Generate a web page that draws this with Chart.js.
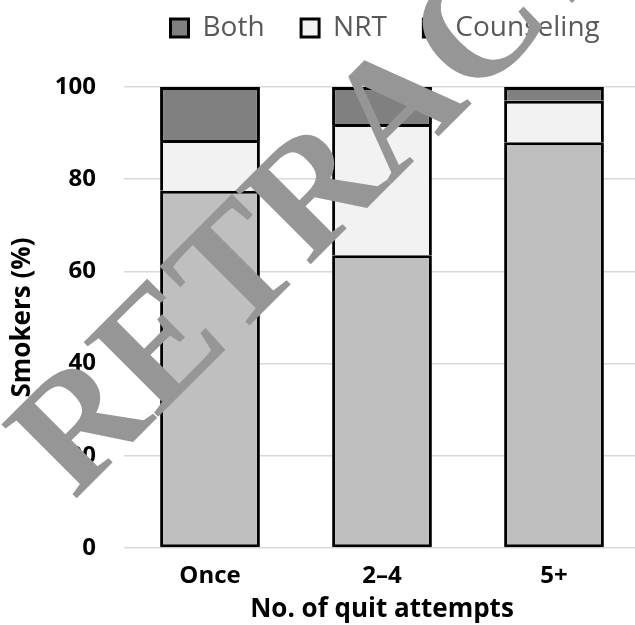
<!DOCTYPE html>
<html>
<head>
<meta charset="utf-8">
<script src="https://cdn.jsdelivr.net/npm/chart.js@4/dist/chart.umd.min.js"></script>
<style>
  html, body { margin: 0; padding: 0; background: #fff; overflow: hidden; }
  #wrap { position: relative; width: 640px; height: 625px; }
</style>
</head>
<body>
<div id="wrap"><canvas id="c"></canvas></div>
<script>
// Quit-attempt groups and the share of smokers using each type of support
const categories = ['Once', '2\u20134', '5+'];
const counseling = [77.5, 63.5, 88];
const nrt = [11, 28.5, 9];
const both = [11.5, 8, 3];
const yTicks = [0, 20, 40, 60, 80, 100];

const seriesNames = ['Counseling', 'NRT', 'Both'];
const seriesColors = ['#bfbfbf', '#f2f2f2', '#808080'];

// Stacked segments share one 3px divider; only the lowest segment draws a bottom edge
const edge = { top: 3, left: 3, right: 3, bottom: 0 };
const baseEdge = { top: 3, left: 3, right: 3, bottom: 3 };

// Legend band: fixed height above the plot, row placed at a fixed position
const LEGEND_HEIGHT = 87;
const LEGEND_X = 170.5;
const LEGEND_MID_Y = 28;

const legendPlacement = {
  id: 'legendPlacement',
  beforeLayout(chart) {
    const lg = chart.legend;
    if (!lg || lg._fixedFit) return;
    const fit = lg.fit.bind(lg);
    lg.fit = function () {
      fit();
      this.height = LEGEND_HEIGHT;
      this.minSize = { width: this.width, height: LEGEND_HEIGHT };
    };
    lg._fixedFit = true;
  },
  afterUpdate(chart) {
    const lg = chart.legend;
    if (!lg) return;
    const pad = lg.options.labels.padding;
    const fontSize = lg.options.labels.font.size;
    const dx = LEGEND_X - pad - lg.left;
    const dy = LEGEND_MID_Y - fontSize / 2 - pad - lg.top;
    lg.left += dx; lg.right += dx;
    lg.top += dy; lg.bottom += dy;
    lg.adjustHitBoxes();
  }
};

// Diagonal stamp across the figure
const stamp = {
  id: 'stamp',
  afterDraw(chart) {
    const ctx = chart.ctx;
    ctx.save();
    ctx.translate(74, 501);
    ctx.rotate(-45 * Math.PI / 180);
    ctx.font = 'bold 161px "Liberation Serif"';
    ctx.fillStyle = '#969696';
    ctx.textBaseline = 'alphabetic';
    ctx.fillText('RETRACTED', 0, 0);
    ctx.restore();
  }
};

new Chart(document.getElementById('c'), {
  type: 'bar',
  data: {
    labels: categories,
    datasets: [
      { label: seriesNames[0], data: counseling, backgroundColor: seriesColors[0], borderColor: '#000', borderWidth: baseEdge, borderSkipped: false },
      { label: seriesNames[1], data: nrt, backgroundColor: seriesColors[1], borderColor: '#000', borderWidth: edge, borderSkipped: false },
      { label: seriesNames[2], data: both, backgroundColor: seriesColors[2], borderColor: '#000', borderWidth: edge, borderSkipped: false }
    ]
  },
  options: {
    responsive: true,
    maintainAspectRatio: false,
    animation: false,
    devicePixelRatio: 1,
    layout: { padding: 0 },
    datasets: { bar: { barPercentage: 0.58, categoryPercentage: 1 } },
    plugins: {
      tooltip: { enabled: false },
      legend: {
        position: 'top',
        align: 'start',
        reverse: true,
        labels: {
          boxWidth: 18,
          boxHeight: 18,
          padding: 36.5,
          color: '#595959',
          font: { family: '"Open Sans"', size: 28 },
          generateLabels(chart) {
            const items = Chart.defaults.plugins.legend.labels.generateLabels(chart);
            items.forEach(it => { it.lineWidth = 3; it.strokeStyle = '#000'; });
            return items;
          }
        }
      }
    },
    scales: {
      x: {
        stacked: true,
        grid: { display: false },
        border: { display: false },
        afterFit(axis) { axis.height = 77; },
        ticks: { color: '#000', padding: 6, font: { family: '"Open Sans"', size: 24, weight: 'bold' } },
        title: {
          display: true,
          text: 'No. of quit attempts',
          color: '#000',
          padding: { top: 2, bottom: 0 },
          font: { family: '"Open Sans"', size: 26, weight: 'bold' }
        }
      },
      y: {
        stacked: true,
        min: 0,
        max: 100,
        afterBuildTicks(axis) { axis.ticks = yTicks.map(v => ({ value: v })); },
        afterFit(axis) { axis.width = 124; },
        grid: { color: '#d9d9d9', lineWidth: 1.5, drawTicks: false },
        border: { display: false },
        ticks: { color: '#000', padding: 28, font: { family: '"Open Sans"', size: 24, weight: 'bold' } },
        title: {
          display: true,
          text: 'Smokers (%)',
          color: '#000',
          padding: { top: 7, bottom: 0 },
          font: { family: '"Open Sans"', size: 26, weight: 'bold' }
        }
      }
    }
  },
  plugins: [legendPlacement, stamp]
});
</script>
</body>
</html>
